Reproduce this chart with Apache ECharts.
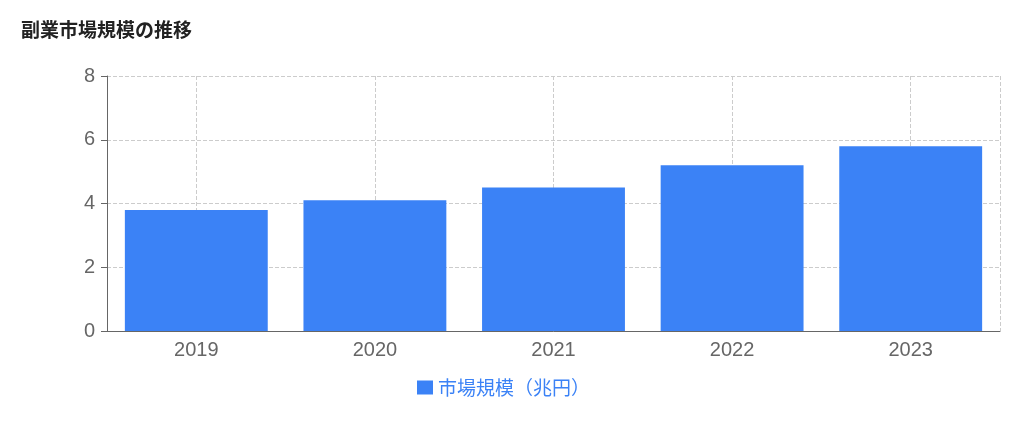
<!DOCTYPE html>
<html>
<head>
<meta charset="utf-8">
<script src="https://cdn.jsdelivr.net/npm/echarts@6/dist/echarts.min.js"></script>
<style>html,body{margin:0;padding:0;background:#fff}#c{width:1024px;height:432px}</style>
</head>
<body>
<div id="c"></div>
<script>
const titleText = '副業市場規模の推移';
const seriesName = '市場規模（兆円）';
const categories = ['2019', '2020', '2021', '2022', '2023'];
const values = [3.8, 4.1, 4.5, 5.2, 5.8];
const yTicks = [0, 2, 4, 6, 8];

const FONT = '"Liberation Sans", "Noto Sans CJK JP", sans-serif';
const CJK = '"Noto Sans CJK JP", sans-serif';
const chart = echarts.init(document.getElementById('c'));
chart.setOption({
  animation: false,
  title: {
    text: titleText, left: 16, top: 15,
    textStyle: { fontSize: 19, fontWeight: 'bold', color: '#222', fontFamily: CJK }
  },
  legend: {
    data: [seriesName], bottom: 30, left: 412,
    itemWidth: 16, itemHeight: 14, icon: 'rect', itemGap: 8,
    textStyle: { fontSize: 19, color: '#3b82f6', fontFamily: CJK }
  },
  grid: { left: 107, right: 24, top: 76, bottom: 101, containLabel: false },
  xAxis: [{
    type: 'category', data: categories,
    axisLine: { lineStyle: { color: '#666' } },
    axisTick: { alignWithLabel: true, lineStyle: { color: '#666' } },
    axisLabel: { fontSize: 20, color: '#666', margin: 9, fontFamily: FONT },
    splitLine: { show: false }
  }, {
    type: 'value', min: -0.5, max: 4.5, position: 'bottom',
    axisLine: { show: false }, axisTick: { show: false }, axisLabel: { show: false },
    splitLine: { show: true, lineStyle: { color: '#ccc', type: 'dashed' } }
  }],
  yAxis: {
    type: 'value', min: yTicks[0], max: yTicks[yTicks.length - 1], interval: 2,
    axisLine: { show: true, onZero: false, lineStyle: { color: '#666' } },
    axisTick: { show: true, length: 6, lineStyle: { color: '#666' } },
    axisLabel: { fontSize: 20, color: '#666', margin: 12, fontFamily: FONT },
    splitLine: { show: true, lineStyle: { color: '#ccc', type: 'dashed' } }
  },
  series: [{
    name: seriesName, type: 'bar', data: values, xAxisIndex: 0,
    barWidth: '80%', itemStyle: { color: '#3b82f6' }
  }]
});
</script>
</body>
</html>
